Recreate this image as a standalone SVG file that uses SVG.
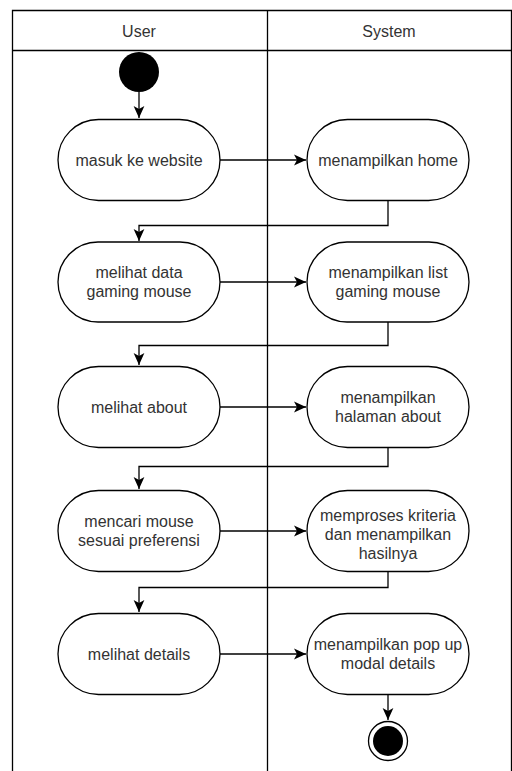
<svg xmlns="http://www.w3.org/2000/svg" width="512" height="771" viewBox="0 0 512 771">
<defs>
<style>
.lane{fill:none;stroke:#000;stroke-width:1.3}
.node{fill:#fff;stroke:#000;stroke-width:1.3}
.t{font-family:"Liberation Sans",Arial,sans-serif;font-size:16px;fill:#333;text-anchor:middle;dominant-baseline:central}
.c{fill:none;stroke:#000;stroke-width:1.3}
</style>
<marker id="arr" markerUnits="userSpaceOnUse" markerWidth="12" markerHeight="12" refX="10" refY="5" orient="auto" viewBox="0 0 10 10">
<path d="M0,0.5 L10,5 L0,9.5 L2.5,5 z" fill="#000"/>
</marker>
</defs>
<rect width="512" height="771" fill="#fff"/>
<g id="pool">
<path class="lane" d="M12.5,771 V10.5 H511.5 V771"/>
<line class="lane" x1="12.5" y1="50.5" x2="511.5" y2="50.5"/>
<line class="lane" x1="267.5" y1="10.5" x2="267.5" y2="771"/>
<text class="t" x="139" y="31">User</text>
<text class="t" x="389" y="31">System</text>
</g>
<g id="connectors">
<path class="c" d="M139,92 V118" marker-end="url(#arr)"/>
<path class="c" d="M220,160 H306" marker-end="url(#arr)"/>
<path class="c" d="M388,200 V225.5 H139 V241" marker-end="url(#arr)"/>
<path class="c" d="M220,282 H306" marker-end="url(#arr)"/>
<path class="c" d="M388,322 V345.5 H139 V365" marker-end="url(#arr)"/>
<path class="c" d="M220,407 H306" marker-end="url(#arr)"/>
<path class="c" d="M388,447 V466.5 H139 V489" marker-end="url(#arr)"/>
<path class="c" d="M220,531 H306" marker-end="url(#arr)"/>
<path class="c" d="M388,571 V587.5 H139 V612" marker-end="url(#arr)"/>
<path class="c" d="M220,654 H306" marker-end="url(#arr)"/>
<path class="c" d="M388,694 V720" marker-end="url(#arr)"/>
</g>
<g id="start"><circle cx="139" cy="72" r="20" fill="#000"/></g>
<g id="n1"><rect class="node" x="58" y="119.5" width="162" height="81" rx="40.5"/><text class="t" x="139" y="160">masuk ke website</text></g>
<g id="s1"><rect class="node" x="307" y="119.5" width="162" height="81" rx="40.5"/><text class="t" x="388" y="160">menampilkan home</text></g>
<g id="n2"><rect class="node" x="58" y="242" width="162" height="80" rx="40"/><text class="t" x="139" y="272.5">melihat data</text><text class="t" x="139" y="291.5">gaming mouse</text></g>
<g id="s2"><rect class="node" x="307" y="242" width="162" height="80" rx="40"/><text class="t" x="388" y="272.5">menampilkan list</text><text class="t" x="388" y="291.5">gaming mouse</text></g>
<g id="n3"><rect class="node" x="58" y="366.5" width="162" height="81" rx="40.5"/><text class="t" x="139" y="407">melihat about</text></g>
<g id="s3"><rect class="node" x="307" y="366.5" width="162" height="81" rx="40.5"/><text class="t" x="388" y="397.5">menampilkan</text><text class="t" x="388" y="416.5">halaman about</text></g>
<g id="n4"><rect class="node" x="58" y="490.5" width="162" height="81" rx="40.5"/><text class="t" x="139" y="521.5">mencari mouse</text><text class="t" x="139" y="540.5">sesuai preferensi</text></g>
<g id="s4"><rect class="node" x="307" y="490.5" width="162" height="81" rx="40.5"/><text class="t" x="388" y="515">memproses kriteria</text><text class="t" x="388" y="534">dan menampilkan</text><text class="t" x="388" y="553">hasilnya</text></g>
<g id="n5"><rect class="node" x="58" y="613.5" width="162" height="81" rx="40.5"/><text class="t" x="139" y="654">melihat details</text></g>
<g id="s5"><rect class="node" x="307" y="613.5" width="162" height="81" rx="40.5"/><text class="t" x="388" y="644.5">menampilkan pop up</text><text class="t" x="388" y="663.5">modal details</text></g>
<g id="end"><circle cx="388" cy="741" r="19.5" fill="#fff" stroke="#000" stroke-width="1.3"/><circle cx="388" cy="741" r="15" fill="#000"/></g>
</svg>
